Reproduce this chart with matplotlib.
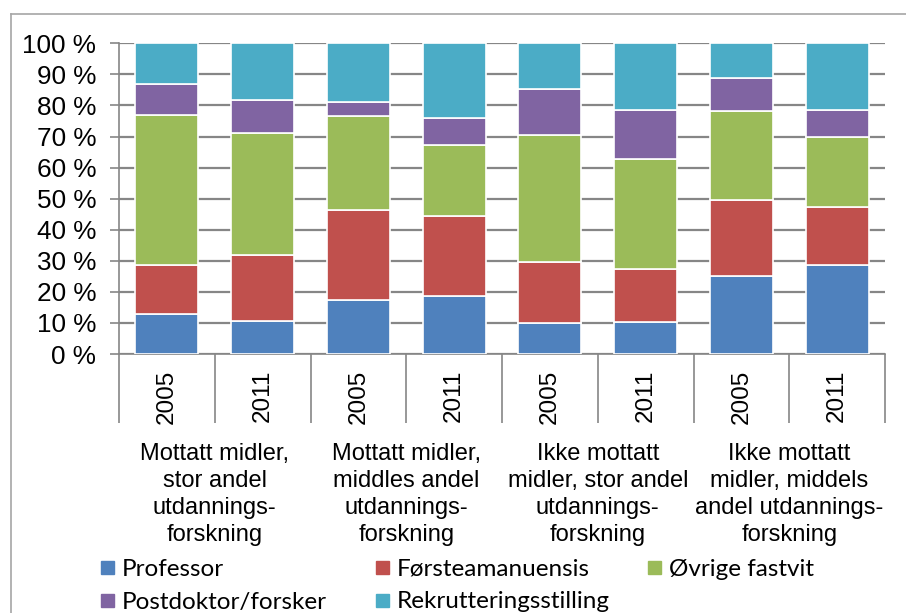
import matplotlib
matplotlib.use("Agg")
import matplotlib.pyplot as plt
from matplotlib.patches import Rectangle
from matplotlib.lines import Line2D
import numpy as np

# ---- data ----
years = ["2005", "2011", "2005", "2011", "2005", "2011", "2005", "2011"]
groups = [
    "Mottatt midler,\nstor andel\nutdannings-\nforskning",
    "Mottatt midler,\nmiddles andel\nutdannings-\nforskning",
    "Ikke mottatt\nmidler, stor andel\nutdannings-\nforskning",
    "Ikke mottatt\nmidler, middels\nandel utdannings-\nforskning",
]
series_names = ["Professor", "Førsteamanuensis", "Øvrige fastvit",
                "Postdoktor/forsker", "Rekrutteringsstilling"]
professor = [12.9, 10.7, 17.5, 18.8, 10.1, 10.4, 25.2, 28.6]
forsteamanuensis = [15.8, 21.2, 28.7, 25.5, 19.6, 17.1, 24.4, 18.8]
ovrige_fastvit = [48.1, 39.1, 30.3, 22.9, 40.8, 35.3, 28.7, 22.5]
postdoktor = [10.0, 10.9, 4.7, 8.8, 14.9, 15.6, 10.5, 8.6]
rekruttering = [13.2, 18.1, 18.8, 24.0, 14.6, 21.6, 11.2, 21.5]
yticks = [0, 10, 20, 30, 40, 50, 60, 70, 80, 90, 100]
ytick_labels = [f"{v} %" for v in yticks]

colors = ["#4F81BD", "#C0504D", "#9BBB59", "#8064A2", "#4BACC6"]
series = [professor, forsteamanuensis, ovrige_fastvit, postdoktor, rekruttering]

W, H = 906, 613
fig = plt.figure(figsize=(W / 100, H / 100), dpi=100)
ax = fig.add_axes([119 / W, 1 - 354 / H, (885 - 119) / W, (354 - 43.3) / H])

x = np.arange(len(years)) + 0.5
bottom = np.zeros(len(years))
for vals, c, name in zip(series, colors, series_names):
    ax.bar(x, vals, bottom=bottom, width=0.66, color=c, edgecolor="white",
           linewidth=1.2, label=name, zorder=3)
    bottom += np.array(vals)

ax.set_xlim(0, len(years))
ax.set_ylim(0, 100)

grid_c = "#868686"
ax.set_yticks(yticks)
ax.set_yticklabels(ytick_labels, fontsize=18.8, family="Liberation Sans")
ax.yaxis.grid(True, color=grid_c, linewidth=1.6, zorder=0)
ax.set_axisbelow(True)
ax.tick_params(axis="y", length=6.5, width=1.2, color=grid_c, pad=10)

# x ticks: year labels
ax.set_xticks(x)
ax.set_xticklabels(years, rotation=90, fontsize=17.5, family="Liberation Sans")
ax.tick_params(axis="x", which="major", length=0, pad=11)
ax.set_xticks(np.arange(0, len(years) + 1), minor=True)
ax.tick_params(axis="x", which="minor", length=50, width=1.2, color=grid_c)

for s in ["top", "right"]:
    ax.spines[s].set_visible(False)
ax.spines["left"].set_color(grid_c)
ax.spines["left"].set_linewidth(1.2)
ax.spines["bottom"].set_color(grid_c)
ax.spines["bottom"].set_linewidth(1.2)

# group labels
for i, g in enumerate(groups):
    fig.text((119 + (2 * i + 1) * (885 - 119) / 8) / W, 1 - 443 / H, g,
             ha="center", va="top", fontsize=17, family="Liberation Sans",
             linespacing=1.3)

# legend (manual, Excel-like fixed columns)
leg_pos = [(101, 567), (376, 567), (648, 567), (101, 600), (376, 600)]
for (px, py), c, name in zip(leg_pos, colors, series_names):
    fig.patches.append(Rectangle((px / W, 1 - (py + 6.5) / H), 13 / W, 13 / H,
                                 transform=fig.transFigure, color=c))
    fig.text((px + 21) / W, 1 - py / H, name, ha="left", va="center_baseline",
             fontsize=17.5, family="Lato")

# chart frame (top and left visible)
fig.lines.append(Line2D([11 / W, 1.0], [1 - 14 / H, 1 - 14 / H],
                        transform=fig.transFigure, color="#a6a6a6", linewidth=1.2))
fig.lines.append(Line2D([11 / W, 11 / W], [0, 1 - 14 / H],
                        transform=fig.transFigure, color="#a6a6a6", linewidth=1.2))

fig.savefig("out.png", dpi=100)
